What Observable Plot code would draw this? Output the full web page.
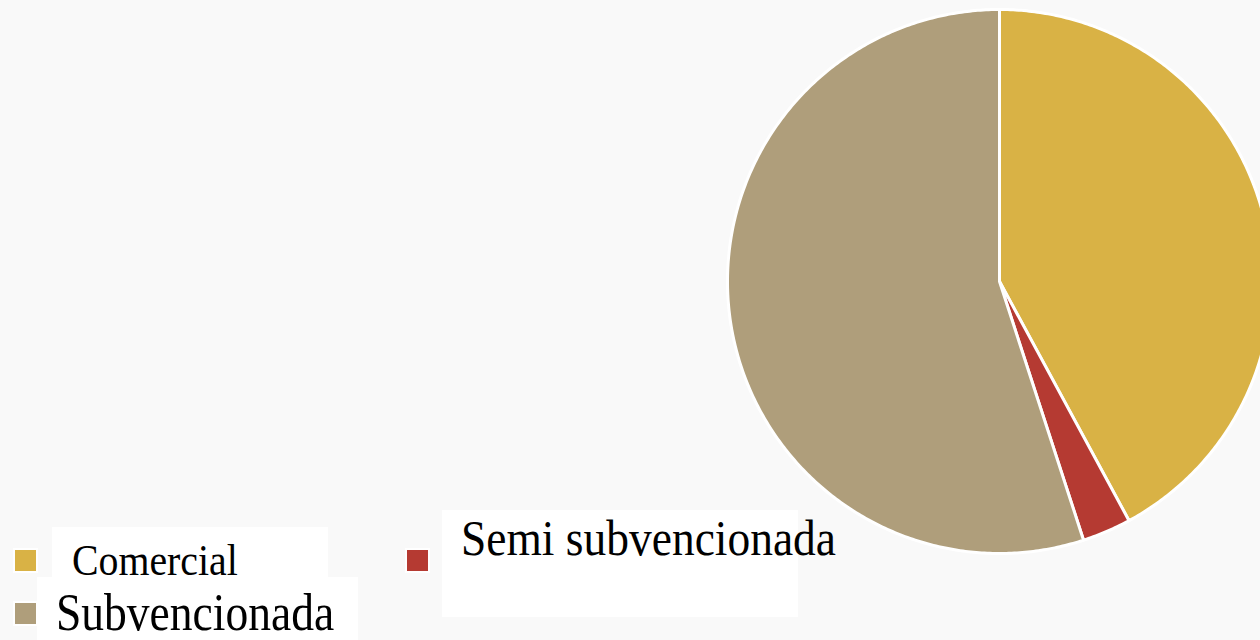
<!DOCTYPE html>
<html>
<head>
<meta charset="utf-8">
<script src="https://cdn.jsdelivr.net/npm/d3@7"></script>
<script src="https://cdn.jsdelivr.net/npm/@observablehq/plot@0.6"></script>
<style>
  html, body { margin: 0; padding: 0; background: #f9f9f9; width: 1260px; height: 640px; overflow: hidden; }
  #wrap { position: relative; width: 1260px; height: 640px; overflow: hidden; }
  .lg { position: absolute; font-family: "Liberation Serif", "Times New Roman", serif; color: #000; white-space: nowrap; line-height: 0.9; transform-origin: 0 0; }
  .box { position: absolute; width: 21px; height: 21px; outline: 2px solid #fff; }
  .txt { position: absolute; background: #fff; box-sizing: border-box; }
</style>
</head>
<body>
<div id="wrap"></div>
<script>
const categories = ["Comercial", "Semi subvencionada", "Subvencionada"];
const values = [42.1, 2.9, 55.0];
const colors = ["#d9b245", "#b53a32", "#af9e7b"];

// build slice outlines from the values
const pie = d3.pie().sort(null).value(d => d.value)(categories.map((c, i) => ({name: c, value: values[i]})));
const pts = [];
for (const p of pie) {
  const n = Math.max(2, Math.ceil((p.endAngle - p.startAngle) / 0.01));
  pts.push({name: p.data.name, x: 0, y: 0});
  for (let k = 0; k <= n; k++) {
    const a = p.startAngle + (p.endAngle - p.startAngle) * k / n;
    pts.push({name: p.data.name, x: Math.sin(a), y: Math.cos(a)});
  }
  pts.push({name: p.data.name, x: 0, y: 0});
}

const cx = 999, cy = 281, r = 272;
const chart = Plot.plot({
  width: 1260,
  height: 640,
  margin: 0,
  style: {background: "#f9f9f9", overflow: "hidden"},
  x: {domain: [-1, 1], range: [cx - r, cx + r], axis: null},
  y: {domain: [-1, 1], range: [cy + r, cy - r], axis: null},
  color: {domain: categories, range: colors},
  marks: [
    Plot.line(pts, {x: "x", y: "y", z: "name", fill: "name", stroke: "#fff", strokeWidth: 3, strokeLinejoin: "round"})
  ]
});
const wrap = document.getElementById("wrap");
wrap.appendChild(chart);

// legend: box, white panel, text (left, right, baseline, font size)
const legend = [
  {i: 0, box: [15, 550], rect: [52, 527, 276, 51], text: [73, 237, 575, 45]},
  {i: 2, box: [15, 603], rect: [37, 577, 321, 63], text: [57, 333, 631, 53]},
  {i: 1, box: [407, 550], rect: [442, 510, 356, 107], text: [462, 835, 555, 50]}
];
for (const l of legend) {
  const b = document.createElement("div");
  b.className = "box";
  b.style.left = l.box[0] + "px"; b.style.top = l.box[1] + "px";
  b.style.background = colors[l.i];
  wrap.appendChild(b);
  const t = document.createElement("div");
  t.className = "txt";
  t.style.left = l.rect[0] + "px"; t.style.top = l.rect[1] + "px";
  t.style.width = l.rect[2] + "px"; t.style.height = l.rect[3] + "px";
  wrap.appendChild(t);
}
for (const l of legend) {
  const [x0, x1, base, size] = l.text;
  const s = document.createElement("div");
  s.className = "lg";
  s.style.fontSize = size + "px";
  s.style.left = (x0 - size * 0.02) + "px";
  s.style.top = (base - size * 0.7875) + "px";
  s.textContent = categories[l.i];
  wrap.appendChild(s);
  const w = s.getBoundingClientRect().width;
  s.style.transform = `scaleX(${(x1 - x0 + size * 0.04) / w})`;
}
</script>
</body>
</html>
